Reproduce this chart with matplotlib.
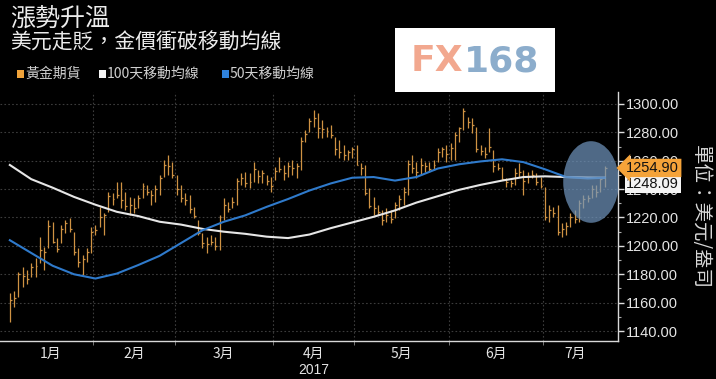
import matplotlib
matplotlib.use('Agg')
import matplotlib.pyplot as plt
import matplotlib.transforms as mtransforms
from matplotlib.patches import Ellipse, Rectangle
import numpy as np

CJK = ['Noto Sans CJK TC', 'DejaVu Sans']
NUM = ['Liberation Sans', 'DejaVu Sans']

# ---------------- data ----------------
title = '漲勢升溫'
subtitle = '美元走貶，金價衝破移動均線'
legend_labels = ['黃金期貨', '100天移動均線', '50天移動均線']
months = ['1月', '2月', '3月', '4月', '5月', '6月', '7月']
year_label = '2017'
days_per_month = [20, 19, 23, 19, 22, 22, 15]
unit_label = '單位：美元/盎司'

highs = [1166.6, 1168.4, 1181.8, 1185.3, 1183.0, 1187.7, 1191.2, 1206.5, 1199.4, 1218.2,
         1217.0, 1205.3, 1214.7, 1218.2, 1219.4, 1210.0, 1198.3, 1193.6, 1198.3, 1213.5,
         1214.7, 1227.6, 1223.2, 1238.2, 1237.0, 1245.2, 1245.0, 1238.2, 1234.7, 1233.5,
         1235.8, 1244.1, 1242.9, 1239.3, 1242.9, 1249.9, 1260.5, 1264.0, 1259.3, 1249.9,
         1242.9, 1237.0, 1235.8, 1227.6, 1218.2, 1208.8, 1206.5, 1207.6, 1206.5, 1221.7,
         1233.5, 1231.1, 1234.7, 1247.6, 1251.1, 1252.3, 1251.1, 1259.3, 1253.4, 1253.4,
         1249.9, 1248.7, 1255.8, 1262.8, 1257.0, 1259.3, 1260.5, 1258.1, 1276.9, 1281.6,
         1289.9, 1295.7, 1293.4, 1288.7, 1284.0, 1285.2, 1276.9, 1274.6, 1271.1, 1267.5,
         1269.9, 1271.1, 1258.1, 1257.0, 1240.5, 1234.7, 1228.8, 1225.3, 1226.4, 1225.3,
         1231.1, 1235.8, 1241.7, 1260.5, 1264.0, 1259.3, 1261.7, 1259.3, 1259.3, 1260.5,
         1268.7, 1269.9, 1271.1, 1272.2, 1280.5, 1284.0, 1296.9, 1291.0, 1289.9, 1284.0,
         1271.1, 1269.9, 1282.8, 1267.5, 1258.1, 1255.8, 1247.6, 1246.4, 1254.6, 1258.1,
         1253.4, 1252.3, 1253.4, 1251.1, 1248.7, 1241.7, 1228.8, 1227.6, 1228.8, 1215.9,
         1217.0, 1222.9, 1225.3, 1232.3, 1235.8, 1235.8, 1242.9, 1242.9, 1248.7, 1256.5]

lows = [1146.6, 1157.1, 1164.2, 1171.2, 1173.0, 1178.3, 1178.3, 1187.7, 1183.0, 1198.3,
        1201.8, 1195.9, 1201.8, 1208.8, 1210.0, 1193.6, 1185.3, 1179.5, 1188.9, 1194.8,
        1207.7, 1213.5, 1207.7, 1224.1, 1228.8, 1233.5, 1226.4, 1225.3, 1221.7, 1222.9,
        1226.4, 1233.5, 1235.8, 1228.8, 1231.1, 1235.8, 1248.7, 1249.9, 1247.6, 1235.8,
        1231.1, 1228.8, 1222.9, 1219.4, 1207.6, 1198.2, 1194.7, 1200.6, 1197.1, 1197.1,
        1218.2, 1224.1, 1226.4, 1228.8, 1242.9, 1241.7, 1240.5, 1245.2, 1244.1, 1244.1,
        1242.9, 1238.2, 1246.4, 1252.3, 1246.4, 1248.7, 1249.9, 1247.6, 1253.4, 1273.4,
        1280.5, 1284.0, 1275.8, 1275.8, 1276.9, 1275.8, 1264.0, 1261.7, 1260.5, 1260.5,
        1261.7, 1257.0, 1249.9, 1235.8, 1226.4, 1221.7, 1221.7, 1214.7, 1217.0, 1215.9,
        1219.4, 1225.3, 1228.8, 1235.8, 1251.1, 1247.6, 1249.9, 1252.3, 1252.3, 1253.4,
        1259.3, 1262.8, 1259.3, 1260.5, 1260.5, 1273.4, 1281.6, 1282.8, 1279.3, 1266.4,
        1264.0, 1261.7, 1266.4, 1252.3, 1253.4, 1246.4, 1241.7, 1241.7, 1242.9, 1248.7,
        1235.8, 1244.1, 1247.6, 1242.9, 1240.5, 1218.2, 1217.0, 1220.6, 1207.6, 1206.5,
        1207.6, 1213.5, 1215.9, 1217.0, 1226.4, 1231.1, 1233.5, 1234.7, 1238.2, 1241.7]

closes = [1162, 1163, 1180, 1179, 1177, 1185, 1186, 1197, 1196, 1214,
          1203, 1198, 1212, 1216, 1212, 1196, 1189, 1191, 1196, 1210,
          1211, 1220, 1222, 1235, 1233, 1236, 1232, 1228, 1229, 1227,
          1234, 1242, 1238, 1236, 1240, 1248, 1257, 1256, 1250, 1240,
          1234, 1232, 1226, 1221, 1209, 1202, 1201, 1203, 1200, 1220,
          1229, 1226, 1231, 1246, 1248, 1244, 1245, 1254, 1249, 1251,
          1246, 1242, 1253, 1254, 1251, 1256, 1255, 1256, 1274, 1279,
          1288, 1290, 1283, 1282, 1281, 1278, 1268, 1266, 1264, 1266,
          1268, 1257, 1255, 1237, 1228, 1227, 1224, 1218, 1222, 1219,
          1229, 1233, 1238, 1258, 1255, 1252, 1257, 1256, 1254, 1257,
          1266, 1268, 1265, 1269, 1278, 1283, 1295, 1287, 1285, 1268,
          1267, 1265, 1270, 1256, 1255, 1247, 1245, 1244, 1251, 1252,
          1246, 1249, 1250, 1245, 1242, 1220, 1225, 1223, 1210, 1212,
          1214, 1220, 1219, 1230, 1233, 1234, 1240, 1238, 1247, 1254.90]

ma_days = [0, 5, 10, 15, 20, 25, 30, 35, 40, 45, 50, 55, 60, 65, 70, 75, 80, 85, 90,
           95, 100, 105, 110, 115, 120, 125, 130, 135, 139]
ma100 = [1257, 1247, 1241, 1234.5, 1229, 1224, 1221, 1217, 1215, 1212, 1210, 1208.5,
         1206.5, 1205.5, 1208, 1212.5, 1216.5, 1220.5, 1225, 1230.5, 1235, 1239.5, 1243,
         1246, 1248.5, 1249, 1248.5, 1248.2, 1248.09]
ma50 = [1204, 1195, 1186, 1180, 1177, 1180.5, 1186.5, 1193, 1202, 1211, 1217, 1221.5,
        1227.5, 1233, 1239, 1244, 1248, 1248.5, 1246, 1248.5, 1254.5, 1257.5, 1259.5,
        1261, 1259, 1254, 1248.5, 1247.5, 1248]

ytick_vals = [1140, 1160, 1180, 1200, 1220, 1240, 1260, 1280, 1300]

# ---------------- style ----------------
BG = '#000000'
GOLD = '#cf9243'
WHITE_LINE = '#e6e6e6'
BLUE_LINE = '#2f7acb'
TXT = '#e4e4e4'
GRID = '#3c3c3c'

W, H = 716, 379
fig = plt.figure(figsize=(W / 100, H / 100), dpi=100, facecolor=BG)
ax = fig.add_axes([0.0, 38 / H, 618 / W, (341 - 92) / H], facecolor=BG)

x = np.arange(len(closes))
ax.vlines(x, lows, highs, color=GOLD, lw=0.9, zorder=3)
ax.hlines(closes, x, x + 0.45, color=GOLD, lw=0.9, zorder=3)

ax.plot(ma_days, ma100, color=WHITE_LINE, lw=1.5, zorder=4, solid_joinstyle='round')
ax.plot(ma_days, ma50, color=BLUE_LINE, lw=1.5, zorder=4, solid_joinstyle='round')

# highlight ellipse
ax.add_patch(Ellipse((135.8, 1245), 13.0, 57.5, facecolor='#7197c0', alpha=0.7,
                     edgecolor='none', zorder=5))

ax.set_xlim(-2.3, 142.1)
ax.set_ylim(1133, 1308.4)

# month ticks
bounds = np.cumsum([0] + days_per_month) - 0.5
centers = (bounds[:-1] + bounds[1:]) / 2
ax.set_xticks(centers)
ax.set_xticklabels(months, fontfamily=CJK, fontsize=10, color=TXT)
ax.set_xticks(bounds[1:-1], minor=True)
ax.tick_params(axis='x', which='major', length=0, pad=4)
ax.tick_params(axis='x', which='minor', length=3, color='#8a8a8a', direction='out')

# y axis on right
ax.yaxis.tick_right()
ax.set_yticks(ytick_vals)
ax.set_yticklabels([f'{v:.2f}' for v in ytick_vals], fontfamily=NUM, fontsize=10.5, color=TXT)
ax.set_yticks(np.arange(1140, 1310, 10), minor=True)
ax.tick_params(axis='y', which='major', length=4, width=1, color='#dddddd', pad=2)
ax.tick_params(axis='y', which='minor', length=2, width=0.8, color='#aaaaaa')

for s in ['left', 'top']:
    ax.spines[s].set_visible(False)
for s in ['right', 'bottom']:
    ax.spines[s].set_color('#d8d8d8')
    ax.spines[s].set_linewidth(1.0)

ax.grid(True, axis='y', which='major', color=GRID, linestyle=(0, (1.5, 2)), lw=0.8)
ax.grid(True, axis='x', which='minor', color=GRID, linestyle=(0, (1.5, 2)), lw=0.8)
ax.set_axisbelow(True)

ax.text(centers[3], -0.118, year_label, transform=ax.get_xaxis_transform(),
        ha='center', va='center', fontsize=10, color=TXT, fontfamily=NUM)

# price labels on the right axis
blend = mtransforms.blended_transform_factory(ax.transAxes, ax.transData)
ax.annotate(f'{ma100[-1]:.2f}', xy=(1.0, ma100[-1]), xycoords=blend,
            xytext=(6, -4.5), textcoords='offset points', ha='left', va='center',
            fontsize=10.5, fontfamily=NUM, color='#111111', annotation_clip=False,
            bbox=dict(boxstyle='square,pad=0.12', fc='#f4f4f4', ec='none'), zorder=10)
ax.annotate(f'{closes[-1]:.2f}', xy=(1.0, closes[-1]), xycoords=blend,
            xytext=(6, 0), textcoords='offset points', ha='left', va='center',
            fontsize=10.5, fontfamily=NUM, color='#111111', annotation_clip=False,
            bbox=dict(boxstyle='larrow,pad=0.15', fc='#f5a339', ec='none'), zorder=11)

# titles
fig.text(10 / W, 1 - 18.5 / H, title, fontsize=18, color='#ececec', fontfamily=CJK,
         ha='left', va='center')
fig.text(10 / W, 1 - 42.5 / H, subtitle, fontsize=15, color='#ececec', fontfamily=CJK,
         ha='left', va='center')

# legend
leg_y = 1 - 74 / H
leg_colors = ['#f0a33a', '#f4f4f4', '#2f82dc']
sq_x = [17, 99, 222]
for lbl, c, sx in zip(legend_labels, leg_colors, sq_x):
    fig.patches.append(Rectangle((sx / W, leg_y - 3.5 / H), 6.5 / W, 7 / H,
                                 transform=fig.transFigure, facecolor=c, edgecolor='none'))
    fig.text((sx + 8) / W, leg_y, lbl, fontsize=10, color='#cfcfcf', fontfamily=CJK,
             ha='left', va='center')

# FX168 logo
fig.patches.append(Rectangle((395 / W, 1 - 92 / H), 160 / W, 64 / H,
                             transform=fig.transFigure, facecolor='white',
                             edgecolor='none', zorder=20))
fig.text(463 / W, 1 - 61 / H, 'FX', fontsize=26, fontweight='bold', color='#f2a88f',
         fontfamily='DejaVu Sans', ha='right', va='center', zorder=21)
fig.text(464 / W, 1 - 61 / H, '168', fontsize=26, fontweight='bold', color='#8cadcc',
         fontfamily='DejaVu Sans', ha='left', va='center', zorder=21)

# unit label
fig.text(700 / W, 1 - 217 / H, unit_label, rotation=-90, fontsize=14, color='#d8d8d8',
         fontfamily=CJK, ha='center', va='center')

fig.savefig('out.png', dpi=100, facecolor=BG)
